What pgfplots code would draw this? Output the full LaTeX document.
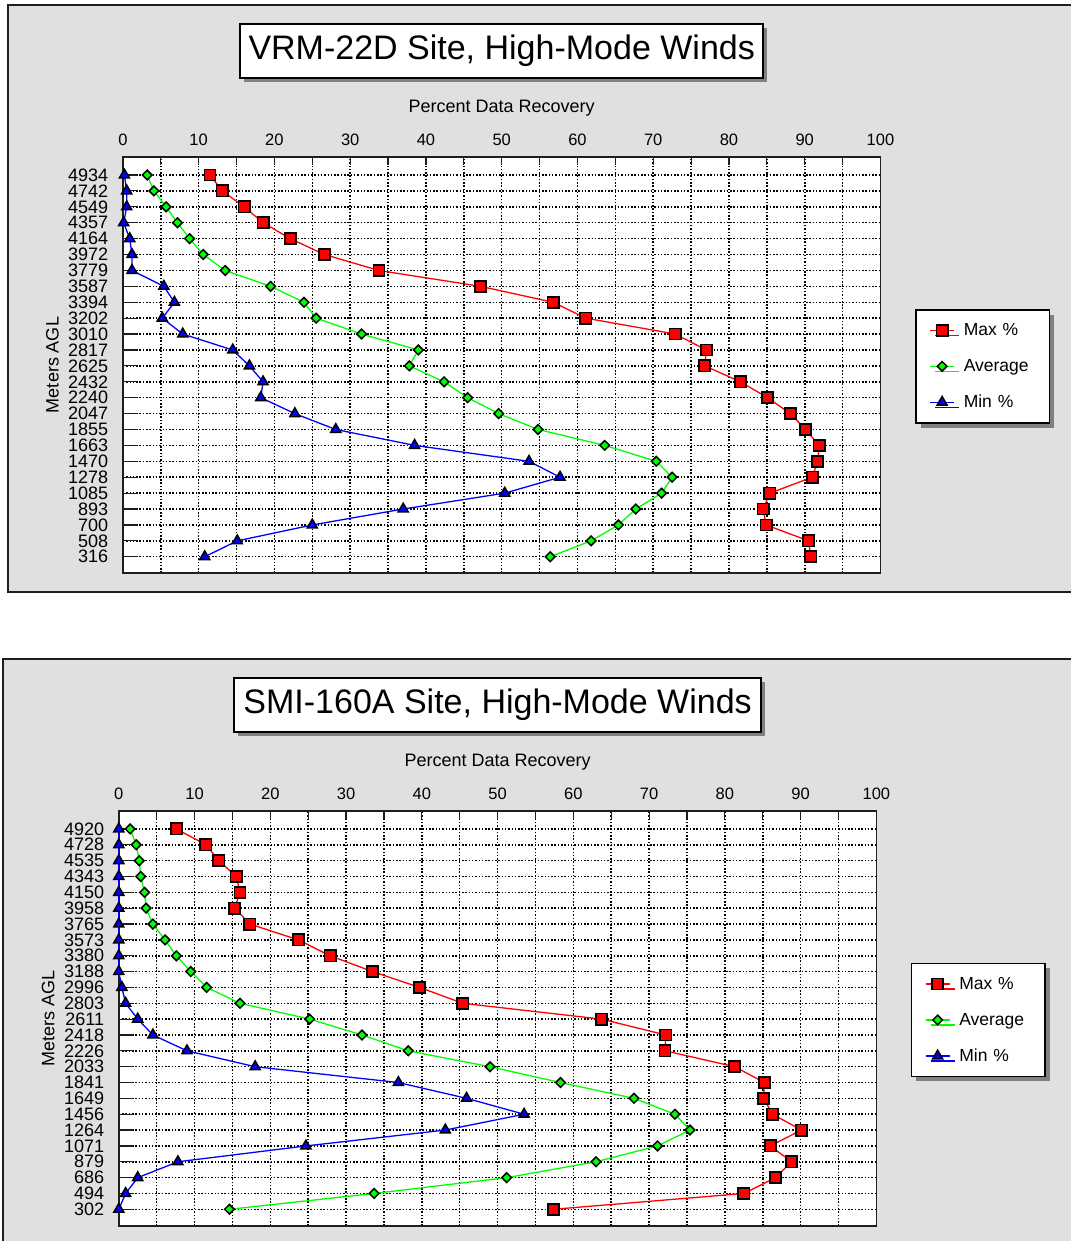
\documentclass[border=0pt]{standalone}
\usepackage{fontspec}
\setmainfont{Liberation Sans}
\usepackage{pgfplots}
\pgfplotsset{compat=1.18}
\usepackage{pgfplotstable}
\usetikzlibrary{shadows}
\definecolor{pr}{RGB}{255,0,0}
\definecolor{pg}{RGB}{0,255,0}
\definecolor{pb}{RGB}{0,0,255}
\definecolor{bgpat}{RGB}{224,224,224}
\definecolor{frm}{RGB}{30,30,30}

\pgfplotstableread{
h max avg min
316  90.8 56.4 10.8
508  90.5 61.8 15.1
700  84.9 65.4 25.0
893  84.5 67.7 37.0
1085 85.4 71.1 50.4
1278 91.0 72.5 57.7
1470 91.7 70.4 53.6
1663 91.9 63.6 38.5
1855 90.1 54.8 28.1
2047 88.1 49.6 22.7
2240 85.1 45.5 18.2
2432 81.5 42.4 18.5
2625 76.8 37.8 16.7
2817 77.0 39.0 14.5
3010 72.9 31.5 7.9
3202 61.1 25.5 5.2
3394 56.8 23.9 6.8
3587 47.2 19.5 5.4
3779 33.8 13.5 1.2
3972 26.6 10.6 1.2
4164 22.1 8.8 0.9
4357 18.5 7.2 0.1
4549 16.0 5.7 0.5
4742 13.1 4.1 0.5
4934 11.5 3.2 0.2
}\topdata

\pgfplotstableread{
h max avg min
302  57.4 14.6 0.0
494  82.5 33.7 0.9
686  86.7 51.2 2.5
879  88.8 63.0 7.8
1071 86.0 71.1 24.7
1264 90.1 75.4 43.1
1456 86.3 73.4 53.5
1649 85.1 68.0 45.9
1841 85.2 58.3 36.9
2033 81.3 49.0 18.0
2226 72.1 38.2 9.0
2418 72.2 32.1 4.5
2611 63.7 25.2 2.5
2803 45.4 16.0 0.9
2996 39.7 11.6 0.4
3188 33.5 9.5 0.0
3380 27.9 7.6 0.0
3573 23.7 6.1 0.0
3765 17.3 4.5 0.0
3958 15.3 3.6 0.0
4150 16.0 3.4 0.0
4343 15.5 2.9 0.0
4535 13.2 2.7 0.0
4728 11.5 2.3 0.0
4920 7.6 1.5 0.0
}\botdata

\pgfplotsset{
  recov/.style={
    width=757.6pt, scale only axis, clip=false,
    xmin=0, xmax=100,
    axis background/.style={fill=white},
    axis line style={line width=1.8pt, frm},
    xtick={0,10,...,100}, minor xtick={5,15,...,95},
    xtick pos=upper, xticklabel pos=upper, ytick pos=lower,
    tick align=inside,
    xtick style={/pgfplots/major tick length=8pt,/pgfplots/minor tick length=8pt, line width=1.2pt, frm, solid},
    ytick style={/pgfplots/major tick length=14pt, line width=1.2pt, frm, solid},
    grid=both,
    major grid style={black, line width=1.5pt, dash pattern=on 1.5pt off 1.8pt},
    minor grid style={black, line width=1.5pt, dash pattern=on 1.5pt off 1.8pt},
    /pgf/number format/assume math mode=true,
    xticklabel style={anchor=base, inner sep=0pt, yshift=11.5pt, font=\fontsize{16.5}{19}\selectfont},
    yticklabel style={anchor=east, inner sep=0pt, xshift=-14.5pt, font=\fontsize{18}{18}\selectfont},
    xlabel={Percent Data Recovery},
    xlabel style={font=\fontsize{18}{21}\selectfont, anchor=base},
    ylabel={Meters AGL},
    ylabel style={font=\fontsize{18}{21}\selectfont, at={(axis description cs:-0.0931,0.5)}, anchor=center},
    legend style={
      anchor=north west,
      draw=black, line width=1.6pt, fill=white,
      drop shadow={shadow xshift=5pt, shadow yshift=-5pt, fill=black!50, opacity=1},
      inner xsep=13.7pt, inner ysep=2.5pt, row sep=0pt, column sep=9pt,
      font=\fontsize{17.5}{20}\selectfont,
      cells={anchor=west},
      nodes={inner sep=0pt, minimum height=36pt, text width=72pt},
    },
    legend image code/.code={\draw[mark repeat=2,mark phase=2,#1] plot coordinates {(0pt,0pt) (12pt,0pt) (24pt,0pt)};},
  },
  maxp/.style={pr, line width=1.3pt, mark=square*, mark size=5.6pt, mark options={fill=pr, draw=black, line width=1.7pt, solid}},
  avgp/.style={pg, line width=1.3pt, mark=square*, mark size=3.4pt, mark options={fill=pg, draw=black, line width=1.5pt, solid, rotate=45}},
  minp/.style={pb, line width=1.3pt, mark=triangle*, mark size=5.8pt, mark options={fill=pb, draw=black, line width=1.5pt, solid}},
}

\begin{document}
\begin{tikzpicture}
\useasboundingbox (0pt,0pt) rectangle (1070pt,1241pt);
\fill[white] (0pt,0pt) rectangle (1070pt,1241pt);
% top panel frame
\fill[bgpat] (7.5pt,649.3pt) rectangle (1080pt,1236pt);
\draw[frm, line width=2pt] (1080pt,1236pt) -- (7.5pt,1236pt) -- (7.5pt,649.3pt) -- (1080pt,649.3pt);
% bottom panel frame
\fill[bgpat] (3pt,-10pt) rectangle (1080pt,582pt);
\draw[frm, line width=2pt] (1080pt,582pt) -- (3pt,582pt) -- (3pt,-10pt);
% title boxes
\fill[black!50] (244.4pt,1158.7pt) rectangle (767pt,1213pt);
\draw[black, line width=2pt, fill=white] (240.4pt,1162.7pt) rectangle (763pt,1217pt);
\node[anchor=base, inner sep=0pt, font=\fontsize{34}{40}\selectfont] at (501.7pt,1181.7pt) {VRM-22D Site, High-Mode Winds};
\fill[black!50] (238pt,504.7pt) rectangle (765pt,559.3pt);
\draw[black, line width=2pt, fill=white] (234pt,508.7pt) rectangle (761pt,563.3pt);
\node[anchor=base, inner sep=0pt, font=\fontsize{34}{40}\selectfont] at (497.6pt,527pt) {SMI-160A Site, High-Mode Winds};

\begin{axis}[recov,
  at={(122.9pt,668pt)}, anchor=south west, height=416pt,
  ymin=119, ymax=5152,
  ytick={316,508,700,893,1085,1278,1470,1663,1855,2047,2240,2432,2625,2817,3010,3202,3394,3587,3779,3972,4164,4357,4549,4742,4934},
  yticklabels={316,508,700,893,1085,1278,1470,1663,1855,2047,2240,2432,2625,2817,3010,3202,3394,3587,3779,3972,4164,4357,4549,4742,4934},
  xlabel style={at={(axis description cs:0.5,1.1065)}},
  legend style={at={(1.0455,0.6346)}},
]
\addplot[maxp] table[x=max,y=h]{\topdata};
\addlegendentry{Max \%}
\addplot[avgp] table[x=avg,y=h]{\topdata};
\addlegendentry{Average}
\addplot[minp] table[x=min,y=h]{\topdata};
\addlegendentry{Min \%}
\end{axis}

\begin{axis}[recov,
  at={(118.8pt,15pt)}, anchor=south west, height=415pt,
  ymin=99, ymax=5138,
  ytick={302,494,686,879,1071,1264,1456,1649,1841,2033,2226,2418,2611,2803,2996,3188,3380,3573,3765,3958,4150,4343,4535,4728,4920},
  yticklabels={302,494,686,879,1071,1264,1456,1649,1841,2033,2226,2418,2611,2803,2996,3188,3380,3573,3765,3958,4150,4343,4535,4728,4920},
  xlabel style={at={(axis description cs:0.5,1.1084)}},
  legend style={at={(1.045,0.6345)}},
]
\addplot[maxp] table[x=max,y=h]{\botdata};
\addlegendentry{Max \%}
\addplot[avgp] table[x=avg,y=h]{\botdata};
\addlegendentry{Average}
\addplot[minp] table[x=min,y=h]{\botdata};
\addlegendentry{Min \%}
\end{axis}
\end{tikzpicture}
\end{document}
